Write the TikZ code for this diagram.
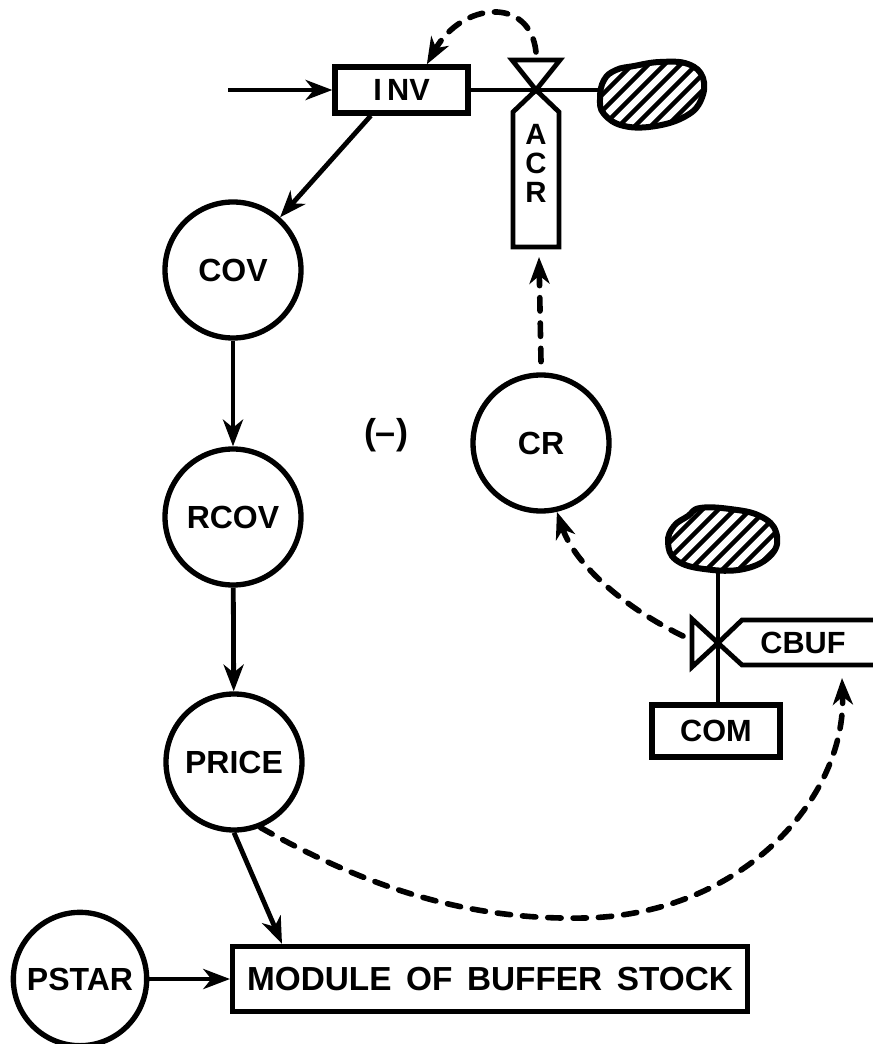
\documentclass[tikz,border=0pt]{standalone}
\usepackage{fontspec}
\setmainfont{Liberation Sans}
\usetikzlibrary{arrows.meta}
\begin{document}
\begin{tikzpicture}[x=0.75pt,y=-0.75pt,
  ln/.style={line width=3.6pt},
  tipS/.style={-{Stealth[length=20pt,width=15pt,inset=6pt]}},
  arr/.style={line width=3.6pt,tipS},
  darr/.style={line width=4.2pt,dash pattern=on 10pt off 9pt,line cap=round,tipS},
  circ/.style={circle,draw,line width=4pt,minimum size=102pt,inner sep=0pt,font=\bfseries\fontsize{24}{24}\selectfont},
  lbl/.style={font=\bfseries\fontsize{24}{24}\selectfont,inner sep=0pt},
  boxn/.style={draw,line width=4pt,inner sep=0pt},
  hatch/.style={line width=3.4pt}]
\fill[white] (0,0) rectangle (872,1044);
\useasboundingbox (0,0) rectangle (872,1044);

% ---------- top flow: INV, valve, ACR, cloud ----------
\coordinate (src) at (228,90);
\node[boxn,minimum width=99.75pt,minimum height=34.5pt,font=\bfseries\fontsize{23}{23}\selectfont] (inv) at (401.5,90) {I\hspace{4pt}NV};
\draw[arr] (src) -- (inv.west);

% cloud 1
\def\cloudA{plot[smooth cycle,tension=0.7] coordinates {(600,98) (604,80) (616,70) (634,66) (660,62) (688,64) (703,78) (701,100) (686,116) (656,126) (624,126) (604,114)}}
\begin{scope}
  \clip \cloudA;
  \foreach \k in {-8,...,8}
    \draw[hatch] ({651+\k*16-70},164) -- ({651+\k*16+70},24);
\end{scope}
\draw[line width=4.5pt] \cloudA;
\coordinate (c1w) at (600,90);

\draw[ln] (inv.east) -- (c1w);
% valve 1 and ACR
\coordinate (v1) at (536,90);
\draw[ln,line join=miter] (v1) -- (512,60) -- (560,60) -- cycle;
\draw[ln,line join=miter] (v1) -- (559,112) -- (559,247) -- (513,247) -- (513,112) -- cycle;
\node[font=\bfseries\fontsize{22}{21.75}\selectfont,align=center,inner sep=0pt] (acr) at (536,163) {A\\C\\R};
\coordinate (v1top) at (536,52);
\coordinate (acrb) at (539,257);

\draw[darr] (v1top) .. controls (530,-4) and (462,2) .. ([xshift=19pt]inv.north);

% ---------- left chain ----------
\node[circ] (cov) at (233,270) {COV};
\node[circ] (rcov) at (233,517) {RCOV};
\node[circ] (price) at (234,762) {PRICE};
\node[circ,minimum size=100pt] (pstar) at (80,979) {PSTAR};
\node[boxn,minimum width=386pt,minimum height=48.75pt,font=\bfseries\fontsize{25}{25}\selectfont] (module) at (490,979) {MODULE\hspace{4pt} OF\hspace{4pt} BUFFER\hspace{4pt} STOCK};

\draw[arr] ([xshift=-23pt]inv.south) -- (cov);
\draw[arr] (cov) -- (rcov);
\draw[arr] (rcov) -- (price);
\draw[arr] (price.south) -- ([xshift=39pt]module.north west);
\draw[arr] (pstar) -- (module.west);

% ---------- CR ----------
\node[lbl,font=\bfseries\fontsize{27}{27}\selectfont] (neg) at (386,435) {(--)};
\node[circ] (cr) at (541,443) {CR};
\draw[darr] ([yshift=8pt]cr.north) -- (acrb);

% ---------- CBUF / COM ----------
\def\cloudB{plot[smooth cycle,tension=0.7] coordinates {(668,542) (674,526) (688,516) (700,508) (730,509) (760,516) (776,532) (772,554) (744,569) (704,569) (676,560)}}
\begin{scope}
  \clip \cloudB;
  \foreach \k in {-8,...,8}
    \draw[hatch] ({722+\k*16-70},608) -- ({722+\k*16+70},468);
\end{scope}
\draw[line width=4.5pt] \cloudB;
\coordinate (c2s) at (718,569);
\coordinate (v2) at (718,643);
\draw[ln,line join=miter] (v2) -- (692,619) -- (692,667) -- cycle;
\draw[ln,line join=miter] (885,620) -- (742,620) -- (v2) -- (742,665) -- (885,665);
\node[lbl,font=\bfseries\fontsize{23}{23}\selectfont] (cbuf) at (803,643) {CBUF};
\node[boxn,minimum width=96pt,minimum height=39pt,font=\bfseries\fontsize{23}{23}\selectfont] (com) at (716,731) {COM};
\draw[ln] (c2s) -- (v2) -- (v2 |- com.north);

\coordinate (v2l) at (683,636);
\draw[darr] (v2l) .. controls (625,608) and (575,565) .. (cr.-77);

\coordinate (cbufb) at (842,678);
\draw[darr] (price.-68) .. controls (380,895) and (480,920) .. (584,918)
  .. controls (740,915) and (846,800) .. (cbufb);
\end{tikzpicture}
\end{document}
